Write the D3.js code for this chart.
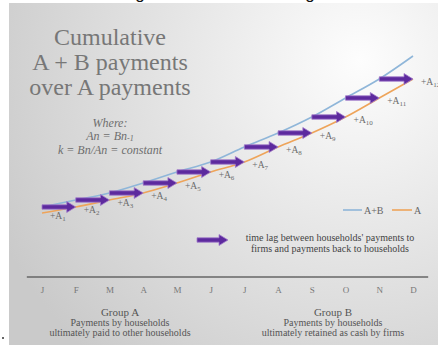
<!DOCTYPE html>
<html>
<head>
<meta charset="utf-8">
<script src="https://cdn.jsdelivr.net/npm/d3@7"></script>
<style>
  body { margin: 0; background: #fff; }
  svg { display: block; }
</style>
</head>
<body>
<svg id="chart"></svg>
<script>
const months = ["J", "F", "M", "A", "M", "J", "J", "A", "S", "O", "N", "D"];
// cumulative payments (arbitrary units)
const cumA = [9, 15, 22, 29, 39, 50, 60, 75, 89, 105, 124, 143];
const cumAB = [15, 22, 29, 39, 50, 60, 75, 89, 105, 124, 143, 166];
const lagLabels = ["1", "2", "3", "4", "5", "6", "7", "8", "9", "10", "11", "12"];
const titleLines = ["Cumulative", "A + B payments", "over A payments"];

const width = 438;
const height = 345;
const serif = "Liberation Serif, Times New Roman, serif";

const svg = d3
  .select("#chart")
  .attr("width", width)
  .attr("height", height)
  .attr("viewBox", `0 0 ${width} ${height}`);

const defs = svg.append("defs");
const bg = defs
  .append("radialGradient")
  .attr("id", "bg")
  .attr("gradientUnits", "userSpaceOnUse")
  .attr("cx", 360)
  .attr("cy", 60)
  .attr("r", 400);
bg.append("stop").attr("offset", 0).attr("stop-color", "#fdfdfd");
bg.append("stop").attr("offset", 0.45).attr("stop-color", "#e6e6e6");
bg.append("stop").attr("offset", 1).attr("stop-color", "#cacaca");

// slide area
svg
  .append("rect")
  .attr("x", 9)
  .attr("y", 3)
  .attr("width", width - 9)
  .attr("height", height - 3)
  .attr("fill", "url(#bg)");

// bits of the page above the picture
svg
  .selectAll("text.cut")
  .data([140, 310])
  .join("text")
  .attr("class", "cut")
  .attr("x", (d) => d)
  .attr("y", -1)
  .attr("text-anchor", "middle")
  .attr("font-family", "Liberation Sans, sans-serif")
  .attr("font-size", 17)
  .attr("fill", "#111")
  .text("g");
svg.append("circle").attr("cx", 3).attr("cy", 338).attr("r", 1).attr("fill", "#333");

const x = d3.scaleLinear().domain([0, 11]).range([42, 413]);
const y = d3.scaleLinear().domain([0, 170]).range([222, 52]);

// title
svg
  .append("text")
  .attr("text-anchor", "middle")
  .attr("font-family", serif)
  .attr("font-size", 24)
  .attr("fill", "#777")
  .selectAll("tspan")
  .data(titleLines)
  .join("tspan")
  .attr("x", 110)
  .attr("y", (d, i) => 45 + i * 25)
  .text((d) => d);

// "where" note, one text per line
const where = svg
  .append("g")
  .attr("text-anchor", "middle")
  .attr("font-family", serif)
  .attr("font-style", "italic")
  .attr("font-size", 12)
  .attr("fill", "#6e6e6e");
where.append("text").attr("x", 110).attr("y", 127).text("Where:");
const l2 = where.append("text").attr("x", 110).attr("y", 140);
l2.append("tspan").text("An = Bn");
l2.append("tspan").attr("font-size", 8).attr("dy", 1).text("-1");
where.append("text").attr("x", 110).attr("y", 154).text("k = Bn/An = constant");

// curves
const line = d3
  .line()
  .x((d, i) => x(i))
  .y((d) => y(d))
  .curve(d3.curveMonotoneX);

svg
  .append("path")
  .attr("d", line(cumAB))
  .attr("fill", "none")
  .attr("stroke", "#8fb6d9")
  .attr("stroke-width", 1.6);

svg
  .append("path")
  .attr("d", line(cumA))
  .attr("fill", "none")
  .attr("stroke", "#eea45a")
  .attr("stroke-width", 1.6);

// arrows: from A+B at month i across to A at month i+1
const arrowPath = (x0, x1, yy) => {
  const head = 9;
  const bw = 2.2;
  const hw = 5.5;
  return `M${x0},${yy - bw}L${x1 - head},${yy - bw}L${x1 - head},${yy - hw}L${x1},${yy}L${x1 - head},${yy + hw}L${x1 - head},${yy + bw}L${x0},${yy + bw}Z`;
};

svg
  .append("g")
  .selectAll("path")
  .data(d3.range(11))
  .join("path")
  .attr("d", (i) => arrowPath(x(i), x(i + 1), y(cumAB[i])))
  .attr("fill", "#5d2a9e")
  .attr("stroke", "#a27ccb")
  .attr("stroke-width", 0.8);

// +An labels
const lab = svg
  .append("g")
  .attr("font-family", serif)
  .attr("font-size", 9.5)
  .attr("fill", "#6b6b6b")
  .selectAll("text")
  .data(lagLabels)
  .join("text")
  .attr("x", (d, i) => x(i) + 8)
  .attr("y", (d, i) => y(cumA[i]) + 6);
lab.append("tspan").text("+A");
lab.append("tspan").attr("font-size", 7).attr("dy", 1.5).text((d) => d);

// legend
const leg = svg.append("g").attr("font-family", serif).attr("font-size", 10).attr("fill", "#666");
leg.append("line").attr("x1", 343).attr("x2", 362).attr("y1", 210).attr("y2", 210).attr("stroke", "#8fb6d9").attr("stroke-width", 1.6);
leg.append("text").attr("x", 364).attr("y", 213.5).text("A+B");
leg.append("line").attr("x1", 392).attr("x2", 412).attr("y1", 210).attr("y2", 210).attr("stroke", "#eea45a").attr("stroke-width", 1.6);
leg.append("text").attr("x", 414).attr("y", 213.5).text("A");

svg
  .append("path")
  .attr("d", arrowPath(197, 228, 240))
  .attr("fill", "#5d2a9e")
  .attr("stroke", "#a27ccb")
  .attr("stroke-width", 0.8);
const note = svg
  .append("text")
  .attr("text-anchor", "middle")
  .attr("font-family", serif)
  .attr("font-size", 10)
  .attr("fill", "#444");
note.append("tspan").attr("x", 330).attr("y", 241).text("time lag between households' payments to");
note.append("tspan").attr("x", 330).attr("y", 252).text("firms and payments back to households");

// month axis
svg
  .append("line")
  .attr("x1", x(-0.45))
  .attr("x2", x(11.45))
  .attr("y1", 277)
  .attr("y2", 277)
  .attr("stroke", "#666")
  .attr("stroke-width", 1.5);

svg
  .append("g")
  .attr("transform", "translate(0,287)")
  .call(
    d3
      .axisBottom(x)
      .tickValues(d3.range(12))
      .tickSize(0)
      .tickPadding(0)
      .tickFormat((i) => months[i])
  )
  .call((g) => g.select(".domain").remove())
  .call((g) =>
    g
      .selectAll("text")
      .attr("font-family", serif)
      .attr("font-size", 9)
      .attr("fill", "#777")
  );

// group captions
const groups = [
  { x: 120, lines: ["Group A", "Payments by households", "ultimately paid to other households"] },
  { x: 333, lines: ["Group B", "Payments by households", "ultimately retained as cash by firms"] },
];
svg
  .selectAll("text.grp")
  .data(groups)
  .join("text")
  .attr("class", "grp")
  .attr("text-anchor", "middle")
  .attr("font-family", serif)
  .attr("fill", "#555")
  .each(function (d) {
    d3.select(this)
      .selectAll("tspan")
      .data(d.lines)
      .join("tspan")
      .attr("x", d.x)
      .attr("y", (t, i) => 316 + i * 10)
      .attr("font-size", (t, i) => (i === 0 ? 11 : 10))
      .text((t) => t);
  });
</script>
</body>
</html>
